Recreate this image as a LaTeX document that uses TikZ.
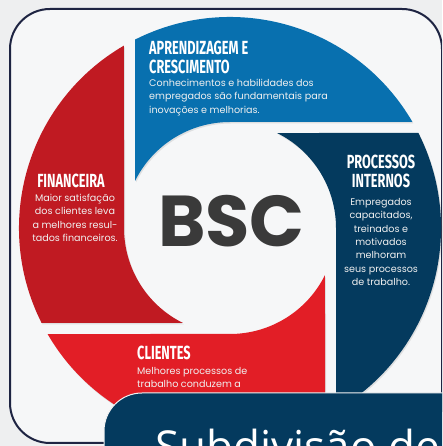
\documentclass[tikz,border=0pt]{standalone}
\usepackage{fontspec}
\setmainfont{Poppins}
\newfontfamily\titlefont{Fira Sans}
\newfontfamily\bannerfont{Open Sans}
\usetikzlibrary{shadows}

\definecolor{bscblue}{RGB}{8,112,175}
\definecolor{bscnavy}{RGB}{4,58,94}
\definecolor{bscred}{RGB}{192,26,34}
\definecolor{bscbright}{RGB}{226,30,38}
\definecolor{bscgrey}{RGB}{58,58,58}
\definecolor{frameline}{RGB}{30,36,66}
\definecolor{paper}{RGB}{238,239,240}

\newcommand{\narrow}[1]{\scalebox{0.67}[1]{#1}}

\begin{document}
\begin{tikzpicture}[x=1pt,y=1pt,
    segshadow/.style={drop shadow={opacity=.2,shadow xshift=1pt,shadow yshift=-1.5pt}},
    segtitle/.style={inner sep=0pt,text=white,font=\titlefont\bfseries\fontsize{19}{19}\selectfont},
    segtext/.style={inner sep=0pt,text=white!88!gray,font=\fontsize{9.6}{13.4}\selectfont}]
    \useasboundingbox (0,0) rectangle (442,446);
    \clip (0,0) rectangle (442,446);
    \fill[paper] (0,0) rectangle (442,446);
    \draw[frameline,line width=2pt,fill=paper!50!white,rounded corners=40pt] (10,3) rectangle (442,437);

    \begin{scope}[shift={(230,218)}]
        \fill[bscnavy,segshadow] (63.66:106pt) -- (26.76:211pt) arc[start angle=26.76,end angle=-59.84,radius=211pt] -- (0:106pt) arc[start angle=0,end angle=63.66,radius=106pt] -- cycle;
        \fill[bscbright,segshadow] (-26.34:106pt) -- (-63.24:211pt) arc[start angle=-63.24,end angle=-149.84,radius=211pt] -- (-90:106pt) arc[start angle=-90,end angle=-26.34,radius=106pt] -- cycle;
        \fill[bscred,segshadow] (-116.34:106pt) -- (-153.24:211pt) arc[start angle=-153.24,end angle=-239.84,radius=211pt] -- (-180:106pt) arc[start angle=-180,end angle=-116.34,radius=106pt] -- cycle;
        \fill[bscblue,segshadow] (153.66:106pt) -- (116.76:211pt) arc[start angle=116.76,end angle=30.16,radius=211pt] -- (90:106pt) arc[start angle=90,end angle=153.66,radius=106pt] -- cycle;
    \end{scope}

    \node[font=\bfseries\fontsize{72}{72}\selectfont,text=bscgrey,inner sep=0pt] (bsc) at (231.5,225) {BSC};

    \node[segtitle,anchor=north west,align=left] (aprendTitle) at (149,405) {\narrow{APRENDIZAGEM E}\\\narrow{CRESCIMENTO}};
    \node[segtext,anchor=north west,align=left] (aprendText) at (149,367) {Conhecimentos e habilidades dos\\empregados são fundamentais para\\inovações e melhorias.};

    \node[segtitle,anchor=north,align=center] (procTitle) at (381,291) {\narrow{PROCESSOS}\\\narrow{INTERNOS}};
    \node[segtext,anchor=north,align=center] (procText) at (381,248) {Empregados\\capacitados,\\treinados e\\motivados\\melhoram\\seus processos\\de trabalho.};

    \node[segtitle,anchor=north] (finTitle) at (71,272) {\narrow{FINANCEIRA}};
    \node[segtext,anchor=north,align=center] (finText) at (75,252) {Maior satisfação\\dos clientes leva\\a melhores resul-\\tados financeiros.};

    \node[segtitle,anchor=north west] (cliTitle) at (137,100) {\narrow{CLIENTES}};
    \node[segtext,anchor=north west,align=left] (cliText) at (137,79) {Melhores processos de\\trabalho conduzem a\\clientes mais satisfeitos.};

    \draw[fill=bscnavy,draw=white!90!gray,line width=1pt,rounded corners=38pt] (104,-40) rectangle (480,53);
    \node[anchor=base west,inner sep=0pt,text=white,font=\bannerfont\fontsize{44}{44}\selectfont] (banner) at (155,-16.5) {Subdivisão de};
\end{tikzpicture}
\end{document}
